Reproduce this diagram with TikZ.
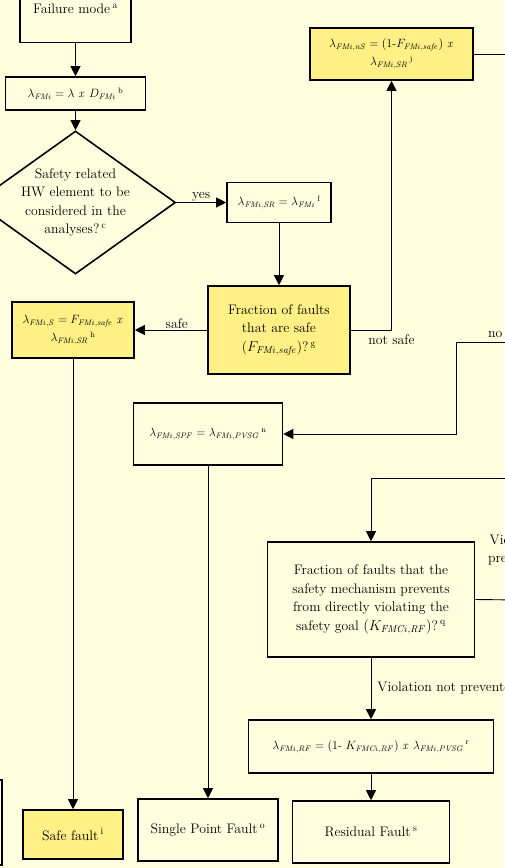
\documentclass[tikz,border=0pt]{standalone}
\usepackage{amsmath}
\usetikzlibrary{shapes.geometric,arrows.meta}
\definecolor{paper}{RGB}{255,255,224}
\definecolor{safeyellow}{RGB}{255,240,133}
\begin{document}
\begin{tikzpicture}[x=1pt,y=-1pt,
    box/.style={draw,line width=1.6pt,fill=paper,align=center,inner sep=2pt,
      font=\fontsize{13.8}{18.5}\selectfont},
    safebox/.style={box,fill=safeyellow},
    formula/.style={font=\fontsize{12}{18}\selectfont},
    flow/.style={line width=0.9pt,-{Triangle[length=10pt,width=10pt]}},
    lbl/.style={font=\fontsize{13.8}{18.5}\selectfont,inner sep=1pt}]
  \fill[paper] (0,0) rectangle (504,868);
  \useasboundingbox (0,0) rectangle (504,868);
  % left column
  \node[box,minimum width=111pt,minimum height=67pt] (fm) at (75.5,9)
    {Failure mode\,\textsuperscript{a}};
  \node[box,formula,minimum width=140pt,minimum height=33pt] (dfm) at (75.5,93.5)
    {$\lambda_{\mathit{FMi}} = \lambda\ \mathit{x}\ D_{\mathit{FMi}}$\,\textsuperscript{b}};
  \node[diamond,draw,line width=1.6pt,fill=paper,minimum width=200pt,
    minimum height=143pt,inner sep=0pt] (hw) at (75.5,202.5) {};
  \node[lbl,align=center] (hwtext) at (hw)
    {Safety related\\HW element to be\\considered in the\\analyses?\,\textsuperscript{c}};
  \node[box,formula,minimum width=104pt,minimum height=40pt] (sr) at (279,202.5)
    {$\lambda_{\mathit{FMi,SR}} = \lambda_{\mathit{FMi}}$\,\textsuperscript{f}};
  \node[safebox,minimum width=142pt,minimum height=88pt] (fsafe) at (279,330)
    {Fraction of faults\\that are safe\\($F_{\mathit{FMi,safe}}$)?\,\textsuperscript{g}};
  \node[safebox,formula,minimum width=122pt,minimum height=56pt] (ls) at (73,330)
    {$\lambda_{\mathit{FMi,S}} = F_{\mathit{FMi,safe}}\ \mathit{x}$\\
     $\lambda_{\mathit{FMi,SR}}$\,\textsuperscript{h}};
  \node[safebox,formula,minimum width=163pt,minimum height=52pt] (lns) at (391.5,54)
    {$\lambda_{\mathit{FMi,nS}} = (1\text{-}F_{\mathit{FMi,safe}})\ \mathit{x}$\\
     $\lambda_{\mathit{FMi,SR}}$\,\textsuperscript{j}};
  \node[box,formula,minimum width=149pt,minimum height=62pt] (spf) at (208,434)
    {$\lambda_{\mathit{FMi,SPF}} = \lambda_{\mathit{FMi,PVSG}}$\,\textsuperscript{n}};
  \node[box,minimum width=207pt,minimum height=115pt] (kfm) at (371,599.5)
    {Fraction of faults that the\\safety mechanism prevents\\from directly violating the\\
     safety goal $(K_{\mathit{FMCi,RF}})$?\,\textsuperscript{q}};
  \node[box,formula,font=\fontsize{11.5}{18}\selectfont,minimum width=245pt,
    minimum height=53pt] (lrf) at (371,746.5)
    {$\lambda_{\mathit{FMi,RF}} = (1\text{-}\ K_{\mathit{FMCi,RF}})\ \mathit{x}\
     \lambda_{\mathit{FMi,PVSG}}$\,\textsuperscript{r}};
  % bottom row
  \node[box,minimum width=102pt,minimum height=85pt] (prev) at (-49,822.5) {};
  \node[safebox,minimum width=100pt,minimum height=49pt] (safe) at (73,834.5)
    {Safe fault\,\textsuperscript{i}};
  \node[box,minimum width=140pt,minimum height=62pt] (single) at (208,830)
    {Single Point Fault\,\textsuperscript{o}};
  \node[box,minimum width=157pt,minimum height=62pt] (resid) at (371,832)
    {Residual Fault\,\textsuperscript{s}};
  % ends that leave the picture
  \coordinate (lnsout) at (520,54);
  \coordinate (spfin) at (520,342);
  \coordinate (spfbend) at (456,342);
  \coordinate (kfmin) at (520,478);
  \coordinate (kfmout) at (520,600);
  \begin{scope}[flow]
    \draw (fm) to (dfm);
    \draw (dfm) to (hw);
    \draw (hw.east) -- node[lbl,above] {yes} (sr.west);
    \draw (sr) to (fsafe);
    \draw (fsafe.west) -- node[lbl,above,pos=0.42] {safe} (ls.east);
    \draw (fsafe.east) -| node[lbl,below,pos=0.5,yshift=-3pt] {not safe} (lns.south);
    \draw (spfin) -- (spfbend) |- (spf.east);
    \draw (kfmin) -| (kfm.north);
    \draw (kfm.south) -- node[lbl,right,xshift=5pt] {Violation not prevented} (lrf.north);
    \draw (lrf) to (resid);
    \draw (spf.south) -- (single.north);
    \draw (ls.south) -- (safe.north);
  \end{scope}
  \draw[line width=0.9pt] (lns.east) -- (lnsout);
  \draw[line width=0.9pt] (kfm.east) -- (kfmout);
  \node[lbl,anchor=west] (nolbl) at (487,334) {no};
  \node[lbl,align=center,anchor=west] (prevlbl) at (487,550) {Violation\\prevented};
\end{tikzpicture}
\end{document}
